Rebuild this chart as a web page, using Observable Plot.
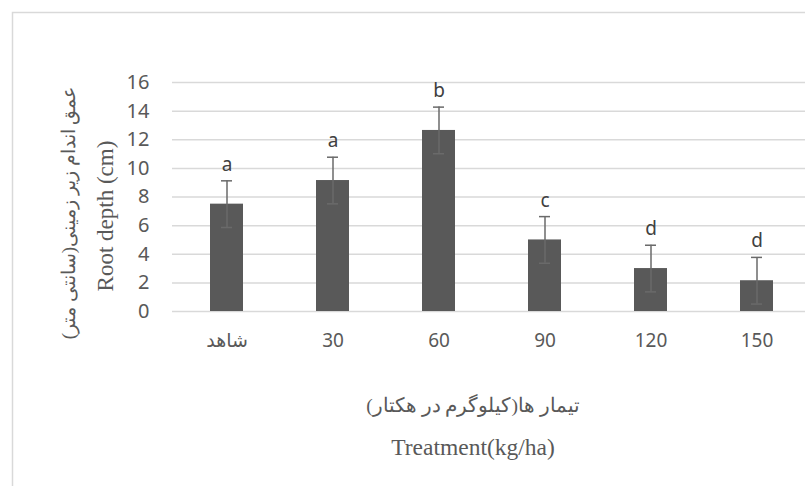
<!DOCTYPE html>
<html>
<head>
<meta charset="utf-8">
<script src="https://cdn.jsdelivr.net/npm/d3@7"></script>
<script src="https://cdn.jsdelivr.net/npm/@observablehq/plot@0.6"></script>
<style>
  html, body { margin: 0; padding: 0; background: #fff; overflow: hidden; }
  #chart { width: 805px; height: 486px; }
</style>
</head>
<body>
<div id="chart"></div>
<script>
const categories = ["شاهد", "30", "60", "90", "120", "150"];
const rootDepth = [7.5, 9.15, 12.65, 5.0, 3.0, 2.15];
const errors = [1.63, 1.63, 1.63, 1.63, 1.63, 1.63];
const letters = ["a", "a", "b", "c", "d", "d"];
const yTicks = [0, 2, 4, 6, 8, 10, 12, 14, 16];

const yLabelEn = "Root depth (cm)";
const yLabelFa = "عمق اندام زیر زمینی(سانتی متر)";
const xLabelFa = "تیمار ها(کیلوگرم در هکتار)";
const xLabelEn = "Treatment(kg/ha)";

const data = categories.map((c, i) => ({
  cat: c, v: rootDepth[i], lo: rootDepth[i] - errors[i], hi: rootDepth[i] + errors[i], L: letters[i]
}));

const W = 805, H = 486;
const sans = "'Noto Sans', 'DejaVu Sans', sans-serif";
const serif = "'Liberation Serif', 'DejaVu Serif', serif";

const chart = Plot.plot({
  width: W,
  height: H,
  marginLeft: 172,
  marginRight: 0,
  marginTop: 82,
  marginBottom: 175,
  style: { fontFamily: sans, background: "#fff", overflow: "visible" },
  x: { domain: categories, range: [172, 810], paddingInner: 0.69, paddingOuter: 0.345, label: null },
  y: { domain: [0, 16], label: null },
  marks: [
    Plot.ruleY(yTicks, { stroke: "#d9d9d9", strokeWidth: 1.5 }),
    Plot.barY(data, { x: "cat", y: "v", fill: "#595959" }),
    Plot.ruleX(data, { x: "cat", y1: "lo", y2: "hi", stroke: "#6a6a6a", strokeWidth: 1.5 }),
    Plot.tickY(data, { x: "cat", y: "hi", stroke: "#6a6a6a", strokeWidth: 1.5, insetLeft: 11, insetRight: 11 }),
    Plot.tickY(data, { x: "cat", y: "lo", stroke: "#6a6a6a", strokeWidth: 1.5, insetLeft: 11, insetRight: 11 }),
    Plot.text(data, { x: "cat", y: "hi", text: "L", dy: -16, fontSize: 19, fill: "#404040", fontFamily: sans }),
    Plot.axisY({ ticks: yTicks, tickSize: 0, tickPadding: 23, fontSize: 20, color: "#595959", label: null, tickFormat: d => String(d) }),
    Plot.axisX({ tickSize: 0, tickPadding: 22, fontSize: 19, color: "#595959", label: null })
  ]
});

document.getElementById("chart").appendChild(chart);

const svg = d3.select(chart);
// outer chart border
svg.insert("rect", ":first-child")
  .attr("x", 12.5).attr("y", 12.5)
  .attr("width", 900).attr("height", 600)
  .attr("fill", "none").attr("stroke", "#d9d9d9").attr("stroke-width", 1.5);

svg.append("text")
  .attr("transform", "translate(108,216) rotate(-90)")
  .attr("text-anchor", "middle").attr("dominant-baseline", "middle")
  .attr("font-family", serif).attr("font-size", 23).attr("fill", "#595959")
  .text(yLabelEn);

svg.append("text")
  .attr("transform", "translate(71,213) rotate(-90)")
  .attr("text-anchor", "middle").attr("dominant-baseline", "middle")
  .attr("direction", "rtl")
  .attr("font-family", serif).attr("font-size", 19).attr("fill", "#595959")
  .text(yLabelFa);

svg.append("text")
  .attr("x", 473).attr("y", 408)
  .attr("text-anchor", "middle").attr("dominant-baseline", "middle")
  .attr("direction", "rtl")
  .attr("font-family", serif).attr("font-size", 19.5).attr("fill", "#595959")
  .text(xLabelFa);

svg.append("text")
  .attr("x", 473).attr("y", 450)
  .attr("text-anchor", "middle").attr("dominant-baseline", "middle")
  .attr("font-family", serif).attr("font-size", 23.5).attr("fill", "#595959")
  .text(xLabelEn);
</script>
</body>
</html>
